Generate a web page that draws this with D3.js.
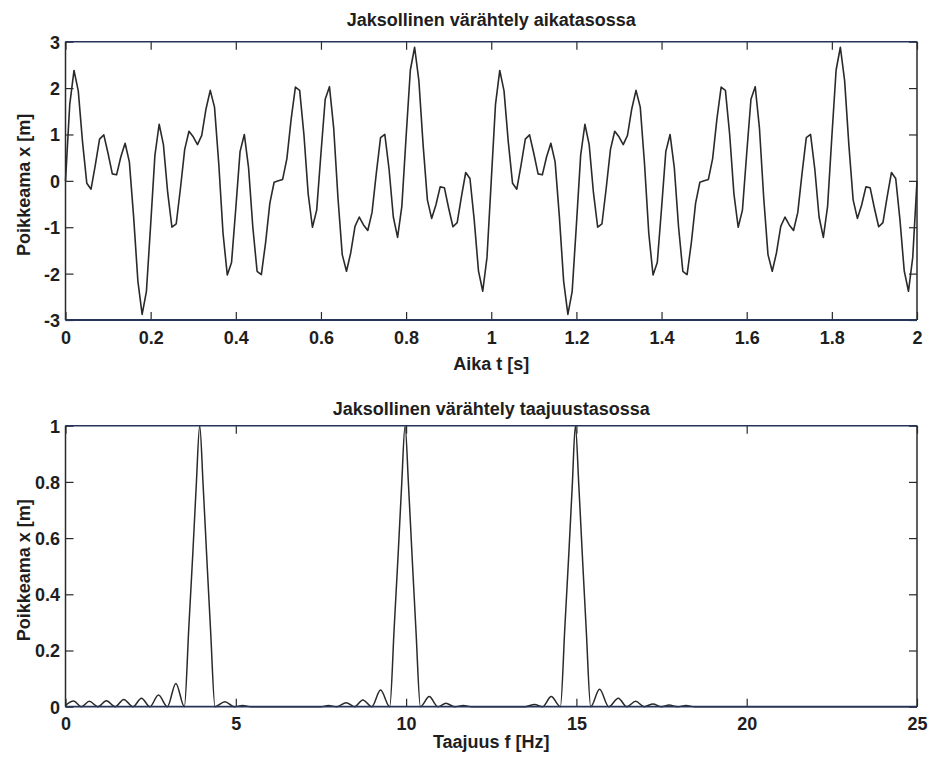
<!DOCTYPE html>
<html>
<head>
<meta charset="utf-8">
<script src="https://cdn.jsdelivr.net/npm/d3@7"></script>
<style>
  html, body { margin: 0; padding: 0; background: #ffffff; }
  svg { display: block; }
  text { font-family: "Liberation Sans", Arial, Helvetica, sans-serif; font-weight: bold; fill: #1e1e1e; }
</style>
</head>
<body>
<svg id="chart" width="932" height="760"></svg>
<script>
// ---- time-domain signal: displacement sampled every 0.01 s over 0..2 s ----
const sampleStep = 0.01;
const displacement = [
  0.00, 1.65, 2.38, 1.94, 0.84, -0.05, -0.18, 0.34, 0.90, 0.99,
  0.59, 0.15, 0.13, 0.52, 0.81, 0.41, -0.77, -2.16, -2.88, -2.39,
  -0.95, 0.55, 1.22, 0.78, -0.25, -1.00, -0.93, -0.16, 0.68, 1.07,
  0.95, 0.78, 0.98, 1.55, 1.95, 1.59, 0.37, -1.13, -2.03, -1.76,
  -0.59, 0.63, 1.00, 0.28, -1.00, -1.95, -2.02, -1.33, -0.48, -0.03,
  0.00, 0.03, 0.48, 1.33, 2.02, 1.95, 1.00, -0.28, -1.00, -0.63,
  0.59, 1.76, 2.03, 1.13, -0.37, -1.59, -1.95, -1.55, -0.98, -0.78,
  -0.95, -1.07, -0.68, 0.16, 0.93, 1.00, 0.25, -0.78, -1.22, -0.55,
  0.95, 2.39, 2.88, 2.16, 0.77, -0.41, -0.81, -0.52, -0.13, -0.15,
  -0.59, -0.99, -0.90, -0.34, 0.18, 0.05, -0.84, -1.94, -2.38, -1.65,
  0.00, 1.65, 2.38, 1.94, 0.84, -0.05, -0.18, 0.34, 0.90, 0.99,
  0.59, 0.15, 0.13, 0.52, 0.81, 0.41, -0.77, -2.16, -2.88, -2.39,
  -0.95, 0.55, 1.22, 0.78, -0.25, -1.00, -0.93, -0.16, 0.68, 1.07,
  0.95, 0.78, 0.98, 1.55, 1.95, 1.59, 0.37, -1.13, -2.03, -1.76,
  -0.59, 0.63, 1.00, 0.28, -1.00, -1.95, -2.02, -1.33, -0.48, -0.03,
  0.00, 0.03, 0.48, 1.33, 2.02, 1.95, 1.00, -0.28, -1.00, -0.63,
  0.59, 1.76, 2.03, 1.13, -0.37, -1.59, -1.95, -1.55, -0.98, -0.78,
  -0.95, -1.07, -0.68, 0.16, 0.93, 1.00, 0.25, -0.78, -1.22, -0.55,
  0.95, 2.39, 2.88, 2.16, 0.77, -0.41, -0.81, -0.52, -0.13, -0.15,
  -0.59, -0.99, -0.90, -0.34, 0.18, 0.05, -0.84, -1.94, -2.38, -1.65,
  0.00
];
const timeTicks = [0, 0.2, 0.4, 0.6, 0.8, 1, 1.2, 1.4, 1.6, 1.8, 2];
const displacementTicks = [-3, -2, -1, 0, 1, 2, 3];

// ---- amplitude spectrum (frequency in Hz, amplitude in m) ----
const spectrumFreq = [
  0.00, 0.24, 0.47, 0.70, 0.95, 1.20, 1.46, 1.71, 1.98, 2.23,
  2.48, 2.73, 2.99, 3.24, 3.49, 3.62, 3.74, 3.84, 3.94, 4.04,
  4.14, 4.26, 4.39, 4.68, 4.95, 5.20, 5.45, 7.50, 7.72, 7.97,
  8.24, 8.49, 8.73, 8.99, 9.25, 9.52, 9.65, 9.77, 9.87, 9.97,
  10.07, 10.17, 10.29, 10.42, 10.68, 10.93, 11.17, 11.42, 11.68, 11.93,
  13.50, 13.77, 14.01, 14.26, 14.53, 14.66, 14.78, 14.88, 14.97, 15.07,
  15.17, 15.29, 15.42, 15.68, 15.95, 16.23, 16.48, 16.74, 16.99, 17.25,
  17.49, 17.72, 17.97, 18.22, 18.47, 25.00
];
const spectrumAmp = [
  0.005, 0.020, 0.000, 0.019, 0.000, 0.021, 0.000, 0.026, 0.000, 0.030,
  0.000, 0.042, 0.000, 0.083, 0.000, 0.28, 0.55, 0.79, 1.00, 0.79,
  0.55, 0.27, 0.000, 0.018, 0.000, 0.004, 0.000, 0.000, 0.004, 0.000,
  0.014, 0.000, 0.024, 0.000, 0.059, 0.000, 0.28, 0.55, 0.79, 1.00,
  0.79, 0.55, 0.27, 0.000, 0.036, 0.000, 0.012, 0.000, 0.004, 0.000,
  0.000, 0.008, 0.000, 0.036, 0.000, 0.28, 0.55, 0.79, 1.00, 0.79,
  0.55, 0.27, 0.000, 0.062, 0.000, 0.030, 0.000, 0.019, 0.000, 0.010,
  0.000, 0.006, 0.000, 0.004, 0.000, 0.000
];
const freqTicks = [0, 5, 10, 15, 20, 25];
const ampTicks = [0, 0.2, 0.4, 0.6, 0.8, 1];

// ---- layout ----
const svg = d3.select("#chart");
const left = 65.5, right = 917;
const panelTime = { top: 41.7, bottom: 320 };
const panelFreq = { top: 425.7, bottom: 706.7 };
const tickLen = 8;
const lineColor = "#2a2a2a";
const frameH = "#26345a";
const frameV = "#2a2a2a";

const fmt = d => (Math.round(d * 10) / 10).toString();

function drawPanel(panel, xScale, yScale, xTicks, yTicks, opts) {
  const g = svg.append("g");

  // bottom axis with inward ticks and labels
  const xb = g.append("g").attr("transform", `translate(0,${panel.bottom})`)
    .call(d3.axisBottom(xScale).tickValues(xTicks).tickSize(-tickLen).tickFormat(fmt));
  xb.select(".domain").remove();
  xb.selectAll(".tick line").attr("stroke", frameV).attr("stroke-width", 1.2);
  xb.selectAll(".tick text").attr("y", opts.xLabelOffset).attr("dy", 0)
    .attr("font-size", 18).attr("fill", "#1e1e1e");

  // top axis ticks (no labels)
  const xt = g.append("g").attr("transform", `translate(0,${panel.top})`)
    .call(d3.axisTop(xScale).tickValues(xTicks).tickSize(-tickLen).tickFormat(""));
  xt.select(".domain").remove();
  xt.selectAll(".tick line").attr("stroke", frameV).attr("stroke-width", 1.2);

  // left axis with inward ticks and labels
  const yl = g.append("g").attr("transform", `translate(${left},0)`)
    .call(d3.axisLeft(yScale).tickValues(yTicks).tickSize(-tickLen).tickFormat(fmt));
  yl.select(".domain").remove();
  yl.selectAll(".tick line").attr("stroke", frameV).attr("stroke-width", 1.2);
  yl.selectAll(".tick text").attr("x", -5.5).attr("dy", "0.36em")
    .attr("font-size", 18).attr("fill", "#1e1e1e");

  // right axis ticks (no labels)
  const yr = g.append("g").attr("transform", `translate(${right},0)`)
    .call(d3.axisRight(yScale).tickValues(yTicks).tickSize(-tickLen).tickFormat(""));
  yr.select(".domain").remove();
  yr.selectAll(".tick line").attr("stroke", frameV).attr("stroke-width", 1.2);

  // frame
  g.append("line").attr("x1", left).attr("x2", right).attr("y1", panel.top).attr("y2", panel.top)
    .attr("stroke", frameH).attr("stroke-width", 1.6);
  g.append("line").attr("x1", left).attr("x2", right).attr("y1", panel.bottom).attr("y2", panel.bottom)
    .attr("stroke", frameH).attr("stroke-width", 1.8);
  g.append("line").attr("x1", left).attr("x2", left).attr("y1", panel.top).attr("y2", panel.bottom)
    .attr("stroke", frameV).attr("stroke-width", 1.5);
  g.append("line").attr("x1", right).attr("x2", right).attr("y1", panel.top).attr("y2", panel.bottom)
    .attr("stroke", frameV).attr("stroke-width", 1.5);

  // title
  svg.append("text").attr("x", (left + right) / 2).attr("y", opts.titleY)
    .attr("text-anchor", "middle").attr("font-size", 18).text(opts.title);
  // x label
  svg.append("text").attr("x", (left + right) / 2).attr("y", opts.xTitleY)
    .attr("text-anchor", "middle").attr("font-size", 18).text(opts.xTitle);
  // y label
  svg.append("text")
    .attr("transform", `translate(30,${(panel.top + panel.bottom) / 2 + 4}) rotate(-90)`)
    .attr("text-anchor", "middle").attr("font-size", 18).text(opts.yTitle);

  return g;
}

// ---- upper panel: time domain ----
const xTime = d3.scaleLinear().domain([0, 2]).range([left, right]);
const yDisp = d3.scaleLinear().domain([-3, 3]).range([panelTime.bottom, panelTime.top]);

const gTime = drawPanel(panelTime, xTime, yDisp, timeTicks, displacementTicks, {
  title: "Jaksollinen värähtely aikatasossa",
  titleY: 26,
  xTitle: "Aika t [s]",
  xTitleY: 370,
  yTitle: "Poikkeama x [m]",
  xLabelOffset: 24
});

const timeLine = d3.line()
  .x((d, i) => xTime(i * sampleStep))
  .y(d => yDisp(d));

gTime.insert("path", ":first-child")
  .datum(displacement)
  .attr("d", timeLine)
  .attr("fill", "none")
  .attr("stroke", lineColor)
  .attr("stroke-width", 1.6)
  .attr("stroke-linejoin", "round");

// ---- lower panel: frequency domain ----
const xFreq = d3.scaleLinear().domain([0, 25]).range([left, right]);
const yAmp = d3.scaleLinear().domain([0, 1]).range([panelFreq.bottom, panelFreq.top]);

const gFreq = drawPanel(panelFreq, xFreq, yAmp, freqTicks, ampTicks, {
  title: "Jaksollinen värähtely taajuustasossa",
  titleY: 415,
  xTitle: "Taajuus f [Hz]",
  xTitleY: 748,
  yTitle: "Poikkeama x [m]",
  xLabelOffset: 23.5
});

const spectrum = spectrumFreq.map((f, i) => [f, spectrumAmp[i]]);
const freqLine = d3.line()
  .x(d => xFreq(d[0]))
  .y(d => yAmp(d[1]))
  .curve(d3.curveMonotoneX);

gFreq.insert("path", ":first-child")
  .datum(spectrum)
  .attr("d", freqLine)
  .attr("fill", "none")
  .attr("stroke", lineColor)
  .attr("stroke-width", 1.5)
  .attr("stroke-linejoin", "round");
</script>
</body>
</html>
